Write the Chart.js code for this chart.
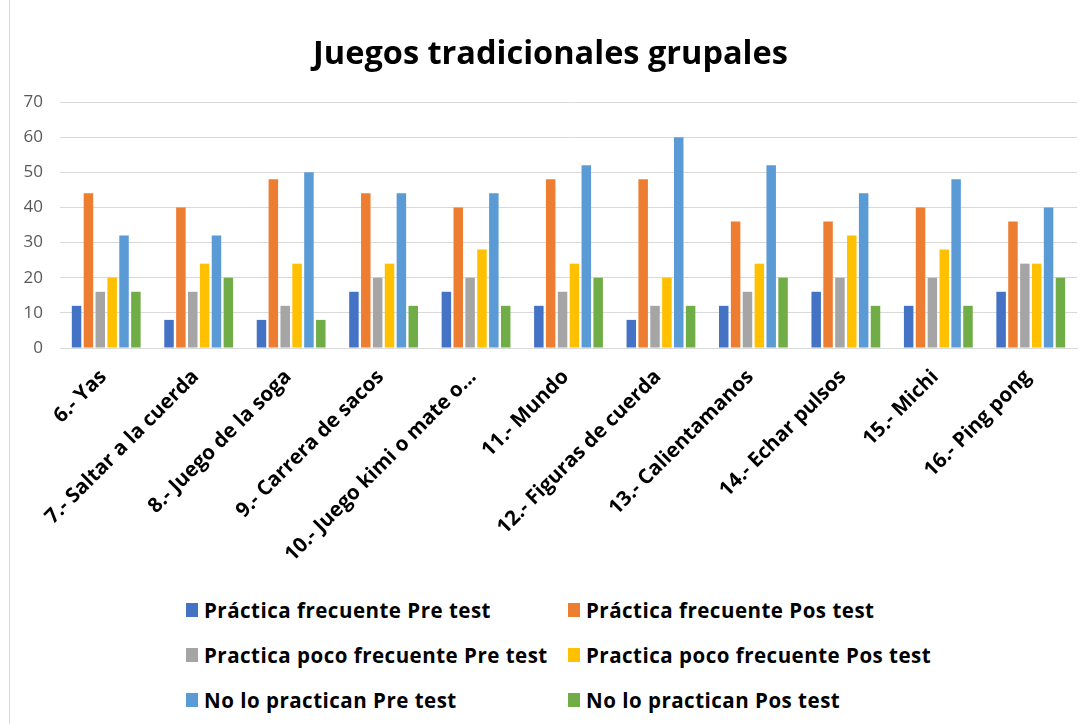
<!DOCTYPE html>
<html>
<head>
<meta charset="utf-8">
<script src="https://cdn.jsdelivr.net/npm/chart.js@4/dist/chart.umd.min.js"></script>
<style>
  html, body { margin: 0; padding: 0; background: #fff; }
  body { width: 1084px; height: 724px; position: relative; overflow: hidden; font-family: "Open Sans", Lato, sans-serif; }
  #frame { position: absolute; left: 9px; top: 0; width: 0; height: 724px; border-left: 1px solid #d9d9d9; }
  #wrap { position: absolute; left: 0; top: 0; width: 1084px; height: 590px; }
  #legend { position: absolute; left: 186px; top: 596px; display: grid; grid-template-columns: 382px auto; row-gap: 18px; }
  .lg-item { display: flex; align-items: center; font-weight: bold; font-size: 20.5px; color: #000; height: 27px; white-space: nowrap; letter-spacing: 0.5px; }
  .lg-box { width: 12px; height: 14px; margin-right: 6px; flex: none; }
</style>
</head>
<body>
<div id="frame"></div>
<div id="wrap"><canvas id="chart"></canvas></div>
<div id="legend"></div>
<script>
(function () {
  "use strict";

  // ── 데이터 ─────────────────────────────────────────────
  const categories = [
    "6.- Yas",
    "7.- Saltar a la cuerda",
    "8.- Juego de la soga",
    "9.- Carrera de sacos",
    "10.- Juego kimi o mate o...",
    "11.- Mundo",
    "12.- Figuras de cuerda",
    "13.- Calientamanos",
    "14.- Echar pulsos",
    "15.- Michi",
    "16.- Ping pong",
  ];

  const seriesNames = [
    "Práctica frecuente Pre test",
    "Práctica frecuente Pos test",
    "Practica poco frecuente Pre test",
    "Practica poco frecuente Pos test",
    "No lo practican Pre test",
    "No lo practican Pos test",
  ];

  const frecuentePre = [12, 8, 8, 16, 16, 12, 8, 12, 16, 12, 16];
  const frecuentePos = [44, 40, 48, 44, 40, 48, 48, 36, 36, 40, 36];
  const pocoPre = [16, 16, 12, 20, 20, 16, 12, 16, 20, 20, 24];
  const pocoPos = [20, 24, 24, 24, 28, 24, 20, 24, 32, 28, 24];
  const noPre = [32, 32, 50, 44, 44, 52, 60, 52, 44, 48, 40];
  const noPos = [16, 20, 8, 12, 12, 20, 12, 20, 12, 12, 20];

  const yTicks = [0, 10, 20, 30, 40, 50, 60, 70];

  const COLORS = ["#4472C4", "#ED7D31", "#A5A5A5", "#FFC000", "#5B9BD5", "#70AD47"];
  const seriesValues = [frecuentePre, frecuentePos, pocoPre, pocoPos, noPre, noPos];

  const FONT = "'Open Sans', Lato, sans-serif";

  const datasets = seriesNames.map((name, i) => ({
    label: name,
    data: seriesValues[i],
    backgroundColor: COLORS[i],
    borderWidth: 0,
    barPercentage: 0.8,
    categoryPercentage: 0.77,
  }));

  const ctx = document.getElementById("chart");

  new Chart(ctx, {
    type: "bar",
    data: { labels: categories, datasets: datasets },
    options: {
      responsive: true,
      maintainAspectRatio: false,
      animation: false,
      layout: { padding: { left: 24, right: 7, top: 0, bottom: 0 } },
      plugins: {
        legend: { display: false },
        tooltip: { enabled: false },
        title: {
          display: true,
          text: "Juegos tradicionales grupales",
          color: "#000",
          font: { family: FONT, size: 32.5, weight: "bold", lineHeight: 1.2 },
          padding: { top: 35, bottom: 28 },
        },
      },
      scales: {
        x: {
          grid: { display: false },
          border: { display: true, color: "#d9d9d9", width: 1 },
          ticks: {
            color: "#000",
            font: { family: FONT, size: 20.5, weight: "bold" },
            minRotation: 45,
            maxRotation: 45,
            autoSkip: false,
            padding: 9,
            labelOffset: -3,
          },
          afterFit: (scale) => { scale.height = 242; },
        },
        y: {
          min: 0,
          max: 70,
          afterBuildTicks: (scale) => { scale.ticks = yTicks.map((v) => ({ value: v })); },
          grid: { color: "#d9d9d9", lineWidth: 1, drawTicks: false },
          border: { display: false },
          ticks: {
            color: "#595959",
            font: { family: FONT, size: 17 },
            padding: 17,
          },
          afterFit: (scale) => { scale.width = 36; },
        },
      },
    },
  });

  // ── 범례 (2열) ─────────────────────────────────────────
  const legendEl = document.getElementById("legend");
  seriesNames.forEach((name, i) => {
    const item = document.createElement("div");
    item.className = "lg-item";
    const box = document.createElement("span");
    box.className = "lg-box";
    box.style.background = COLORS[i];
    const txt = document.createElement("span");
    txt.textContent = name;
    item.appendChild(box);
    item.appendChild(txt);
    legendEl.appendChild(item);
  });
})();
</script>
</body>
</html>
